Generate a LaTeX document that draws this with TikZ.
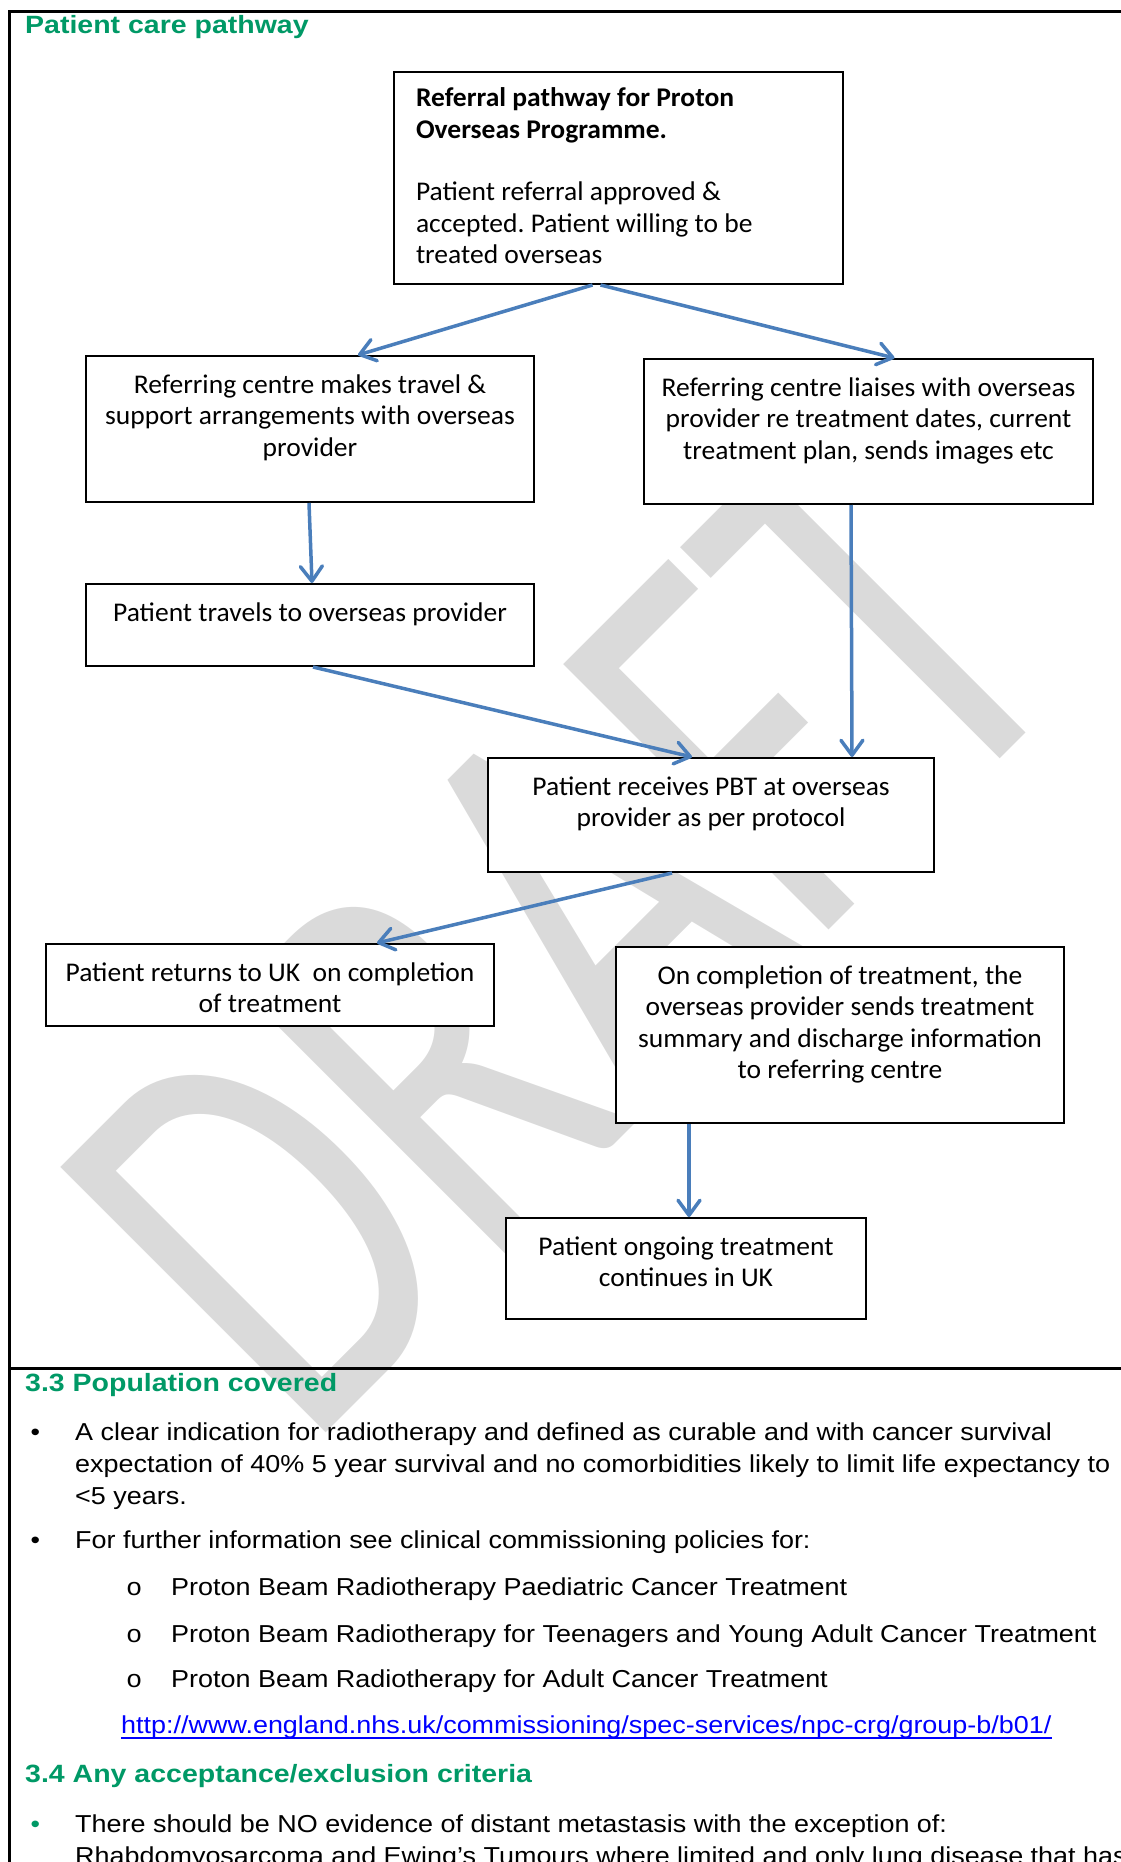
\documentclass[tikz,border=0pt]{standalone}
\usepackage{fontspec}
\usetikzlibrary{arrows.meta,calc}
\frenchspacing
\newfontfamily\boxfont[FakeStretch=1.02]{Carlito}
\newfontfamily\wmfont[FakeStretch=0.70]{Carlito}
\newfontfamily\bodyfont[FakeStretch=1.10]{Liberation Sans}
\newfontfamily\headfont[FakeStretch=1.14]{Liberation Sans}
\newfontfamily\subfont[FakeStretch=1.10]{Liberation Mono}
\definecolor{arrowblue}{RGB}{74,126,187}
\definecolor{nhsgreen}{RGB}{0,153,102}
\definecolor{wmgrey}{RGB}{218,218,218}
\definecolor{linkblue}{RGB}{0,0,255}
\newcommand{\bxc}[3]{\parbox[c][#2][t]{#1}{\centering\rule{0pt}{37pt}#3}}
\tikzset{
  wm/.style={anchor=base west, inner sep=0pt, rotate=45, text=wmgrey, font=\wmfont\fontsize{585}{600}\selectfont},
  frameline/.style={line width=3pt, line cap=rect},
  box/.style={draw=black, line width=2pt, fill=white, inner sep=0pt, font=\boxfont\fontsize{27}{31.5}\selectfont},
  flow/.style={draw=arrowblue, line width=3.5pt, -{Straight Barb[length=15pt,width=22pt,round]}},
  txt/.style={anchor=base west, inner sep=0pt, font=\bodyfont\fontsize{24.5}{32}\selectfont},
  head/.style={anchor=base west, inner sep=0pt, text=nhsgreen, font=\headfont\bfseries\fontsize{25}{30}\selectfont},
  subbul/.style={anchor=base west, inner sep=0pt, font=\subfont\fontsize{24.5}{32}\selectfont}
}
\begin{document}
\begin{tikzpicture}[x=1pt,y=-1pt]
\useasboundingbox (0,0) rectangle (1120,1862);
% watermark
\node[wm] (wm) at (306.6,1452.4) {DRAFT};
% frame
\draw[frameline] (9,1875) -- (9,12) -- (1130,12);
\draw[frameline] (9,1368) -- (1130,1368);
% title
\node[head] (title) at (25,34) {Patient care pathway};
% boxes
\node[box] (top) at (618.5,178) {\parbox[c][212pt][t]{449pt}{\raggedright\leftskip=22pt\rule{0pt}{35pt}\textbf{Referral pathway for Proton}\\\textbf{Overseas Programme.}\\[31pt]Patient referral approved \&\\accepted. Patient willing to be\\treated overseas}};
\node[box] (left1) at (310,429) {\bxc{448pt}{146pt}{Referring centre makes travel \&\\support arrangements with overseas\\provider}};
\node[box] (right1) at (868.5,431.5) {\bxc{449pt}{145pt}{Referring centre liaises with overseas\\provider re treatment dates, current\\treatment plan, sends images etc}};
\node[box] (left2) at (310,625) {\bxc{448pt}{82pt}{Patient travels to overseas provider}};
\node[box] (pbt) at (711,815) {\bxc{446pt}{114pt}{Patient receives PBT at overseas\\provider as per protocol}};
\node[box] (left3) at (270,985) {\bxc{448pt}{82pt}{Patient returns to UK\ \ on completion\\of treatment}};
\node[box] (right3) at (840,1035) {\bxc{448pt}{176pt}{On completion of treatment, the\\overseas provider sends treatment\\summary and discharge information\\to referring centre}};
\node[box] (bottom) at (686,1268.5) {\bxc{360pt}{101pt}{Patient ongoing treatment\\continues in UK}};
% arrows
\draw[flow] ($(top.south)+(-26,0)$) -- ($(left1.north)+(48,0)$);
\draw[flow] ($(top.south)+(-18,0)$) -- ($(right1.north)+(26,0)$);
\draw[flow] ($(left1.south)+(-1,0)$) -- ($(left2.north)+(2,0)$);
\draw[flow] ($(left2.south)+(3,0)$) -- ($(pbt.north)+(-19,0)$);
\draw[flow] ($(right1.south)+(-17.5,0)$) -- ($(pbt.north)+(141,0)$);
\draw[flow] ($(pbt.south)+(-39,0)$) -- ($(left3.north)+(107,0)$);
\draw[flow] ($(right3.south)+(-151,0)$) -- ($(bottom.north)+(3,0)$);
% section 3.3
\node[head] (h33) at (25,1391) {3.3 Population covered};
\node[txt] (b1) at (30.5,1440) {•};
\node[txt] (b1a) at (75,1440) {A clear indication for radiotherapy and defined as curable and with cancer survival};
\node[txt] (b1b) at (75,1472) {expectation of 40\% 5 year survival and no comorbidities likely to limit life expectancy to};
\node[txt] (b1c) at (75,1504) {<5 years.};
\node[txt] (b2) at (30.5,1548) {•};
\node[txt] (b2a) at (75,1548) {For further information see clinical commissioning policies for:};
\node[subbul] (s1) at (126,1595) {o};
\node[txt] (s1t) at (171,1595) {Proton Beam Radiotherapy Paediatric Cancer Treatment};
\node[subbul] (s2) at (126,1642) {o};
\node[txt] (s2t) at (171,1642) {Proton Beam Radiotherapy for Teenagers and Young Adult Cancer Treatment};
\node[subbul] (s3) at (126,1687) {o};
\node[txt] (s3t) at (171,1687) {Proton Beam Radiotherapy for Adult Cancer Treatment};
\node[txt, text=linkblue] (url) at (121,1733) {http://www.england.nhs.uk/commissioning/spec-services/npc-crg/group-b/b01/};
\draw[linkblue, line width=1.6pt] ($(url.base west)+(0,5)$) -- ($(url.base east)+(0,5)$);
% section 3.4
\node[head] (h34) at (25,1782) {3.4 Any acceptance/exclusion criteria};
\node[txt, text=nhsgreen] (b3) at (30.5,1832) {•};
\node[txt] (b3a) at (75,1832) {There should be NO evidence of distant metastasis with the exception of:};
\node[txt] (b3b) at (75,1864) {Rhabdomyosarcoma and Ewing’s Tumours where limited and only lung disease that has};
\end{tikzpicture}
\end{document}
